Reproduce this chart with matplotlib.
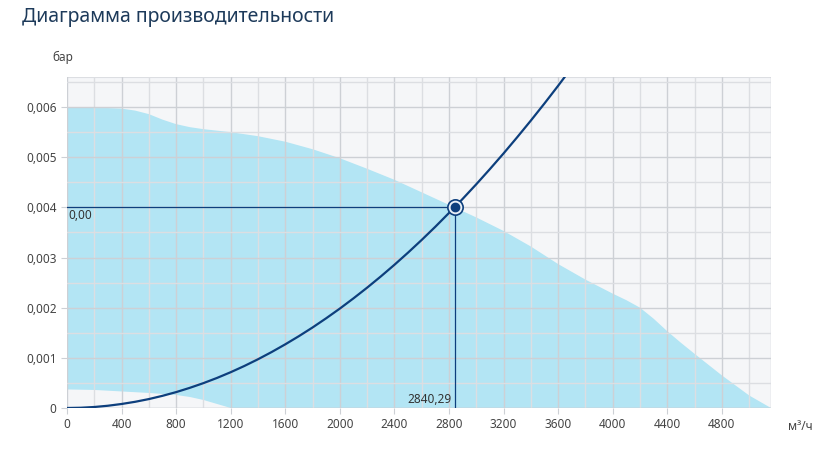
import numpy as np
import matplotlib.pyplot as plt

plt.rcParams['font.family'] = ['Noto Sans', 'DejaVu Sans']

# Fan working area (upper boundary)
fan_x = [0, 100, 200, 300, 400, 500, 600, 700, 800, 900, 1000, 1200, 1400, 1600,
         1800, 2000, 2200, 2400, 2600, 2800, 3000, 3200, 3400, 3600, 3800, 4000,
         4100, 4200, 4300, 4400, 4500, 4600, 4800, 5000, 5160]
fan_y = [0.00600, 0.00599, 0.00598, 0.00598, 0.00597, 0.00593, 0.00586, 0.00575,
         0.00566, 0.00560, 0.00556, 0.00550, 0.00542, 0.00531, 0.00516, 0.00498,
         0.00477, 0.00455, 0.00430, 0.00405, 0.00380, 0.00353, 0.00322, 0.00287,
         0.00256, 0.00228, 0.00215, 0.00200, 0.00178, 0.00153, 0.00130, 0.00108,
         0.00065, 0.00025, 0.0]

# lower boundary of the working area
low_x = [0, 200, 400, 600, 800, 900, 1000, 1100, 1200]
low_y = [0.00037, 0.00036, 0.00033, 0.00030, 0.00026, 0.00022, 0.00016, 0.00008, 0.0]

# system curve
sys_x = [0, 100, 200, 300, 400, 500, 600, 700, 800, 900, 1000, 1100, 1200, 1300,
         1400, 1500, 1600, 1700, 1800, 1900, 2000, 2100, 2200, 2300, 2400, 2500,
         2600, 2700, 2840.29, 2900, 3000, 3100, 3200, 3300, 3400, 3500, 3600, 3700]
sys_y = [0.0, 0.000005, 0.00002, 0.000045, 0.00008, 0.000124, 0.000178, 0.000243,
         0.000317, 0.000402, 0.000496, 0.0006, 0.000714, 0.000838, 0.000972,
         0.001116, 0.00127, 0.001433, 0.001606, 0.00179, 0.001983, 0.002187,
         0.0024, 0.002623, 0.002856, 0.003099, 0.003352, 0.003615, 0.0040,
         0.00417, 0.004462, 0.004765, 0.005077, 0.0054, 0.005732, 0.006074,
         0.006426, 0.00679]

work_flow = 2840.29
work_pressure = 0.004

x_ticks = [0, 400, 800, 1200, 1600, 2000, 2400, 2800, 3200, 3600, 4000, 4400, 4800]
y_ticks = [0, 0.001, 0.002, 0.003, 0.004, 0.005, 0.006]
y_labels = ["0", "0,001", "0,002", "0,003", "0,004", "0,005", "0,006"]

dark = "#0d3f7d"
grid_major = "#cdd0d5"
grid_minor = "#dcdee2"

fig = plt.figure(figsize=(8.26, 4.55), dpi=100)
ax = fig.add_axes([67 / 826, 47 / 455, 704 / 826, 331 / 455])
ax.set_facecolor("#f5f6f8")

# working area polygon
poly_x = fan_x + low_x[::-1]
poly_y = fan_y + low_y[::-1]
ax.fill(poly_x, poly_y, color="#b3e5f4", lw=0, zorder=1)

ax.set_xlim(0, 5160)
ax.set_ylim(0, 0.0066)
ax.set_xticks(x_ticks)
ax.set_xticks(np.arange(0, 5160, 200), minor=True)
ax.set_yticks(y_ticks)
ax.set_yticklabels(y_labels)
ax.set_yticks(np.arange(0, 0.0066, 0.0005), minor=True)
ax.grid(True, which="major", color=grid_major, lw=1, zorder=2)
ax.grid(True, which="minor", color=grid_minor, lw=1, zorder=2)
ax.set_axisbelow(False)
for s in ax.spines.values():
    s.set_visible(False)
ax.axhline(0.0066, color=grid_minor, lw=1.5, zorder=2)
ax.axvline(5160, color=grid_major, lw=1, zorder=2)
ax.axhline(0, color=grid_major, lw=1, zorder=2)

ax.tick_params(axis="both", which="major", labelsize=8.5, labelcolor="#444444",
               color=grid_major, length=4)
ax.tick_params(axis="both", which="minor", length=0)

# system curve and working point
ax.plot(sys_x, sys_y, color=dark, lw=1.6, zorder=4)
ax.plot([0, work_flow], [work_pressure, work_pressure], color=dark, lw=0.9, zorder=3)
ax.plot([work_flow, work_flow], [0, work_pressure], color=dark, lw=0.9, zorder=3)
ax.plot([work_flow], [work_pressure], marker="o", ms=11, mfc="#e8f0f8", mec=dark,
        mew=1.2, zorder=5)
ax.plot([work_flow], [work_pressure], marker="o", ms=6, mfc=dark, mec=dark, zorder=6)

ax.text(10, work_pressure - 0.00003, "0,00", fontsize=8.5, color="#333333",
        ha="left", va="top", zorder=6)
ax.text(work_flow - 20, 0.00003, "2840,29", fontsize=8.5, color="#333333",
        ha="right", va="bottom", zorder=6)

fig.text(22 / 826, 1 - 17 / 455, "Диаграмма производительности", fontsize=14,
         color="#1d3a5a", ha="left", va="center")
fig.text(52 / 826, 1 - 57 / 455, "бар", fontsize=8.5, color="#444444",
         ha="left", va="center")
fig.text(788 / 826, 1 - 426 / 455, "м³/ч", fontsize=8.5, color="#444444",
         ha="left", va="center")

fig.savefig("out.png", dpi=100)
